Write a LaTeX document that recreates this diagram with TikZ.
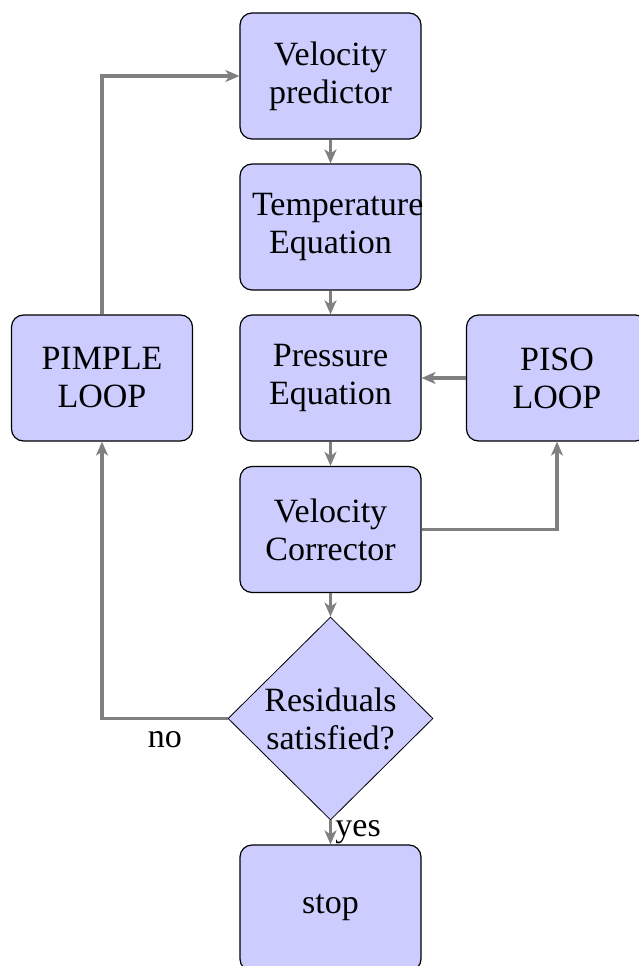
\documentclass[tikz,border=0pt]{standalone}
\usepackage{fontspec}
\setmainfont{Liberation Serif}
\usetikzlibrary{shapes.geometric,arrows.meta}
\begin{document}
\begin{tikzpicture}[x=1pt,y=1pt,
  font=\fontsize{34}{38}\selectfont,
  stepbox/.style={rectangle, draw=black, line width=1.2pt, fill=blue!20,
    rounded corners=12pt, text width=157pt, inner sep=12pt,
    minimum width=181pt, minimum height=126pt, align=center},
  decision/.style={diamond, draw=black, line width=0.8pt, fill=blue!20,
    text width=140pt, align=center, inner sep=0pt,
    minimum width=205pt, minimum height=203pt},
  link/.style={draw=gray, line width=3.2pt,
    -{Stealth[length=14pt,width=12pt,inset=4pt]}}]
  \useasboundingbox (0,0) rectangle (638,-966);

  % main column
  \node[stepbox] (pred)   at (330.5,-76)    {Velocity predictor};
  \node[stepbox] (temp)   at (330.5,-227)   {Temperature Equation};
  \node[stepbox] (press)  at (330.5,-378)   {Pressure Equation};
  \node[stepbox] (corr)   at (330.5,-529.5) {Velocity Corrector};
  \node[decision] (dec)   at (330.5,-718.5) {Residuals satisfied?};
  \node[stepbox] (stop)   at (330.5,-908)   {stop};

  % outer and inner loops
  \node[stepbox] (pimple) at (102,-378)     {PIMPLE LOOP};
  \node[stepbox] (piso)   at (557,-378)     {PISO LOOP};

  % connectors
  \draw[link] (pred) -- (temp);
  \draw[link] (temp) -- (press);
  \draw[link] (press) -- (corr);
  \draw[link] (corr) -- (dec);
  \draw[link] (dec) -- node[right] {yes} (stop);
  \draw[link] (dec) -| node[below, pos=0.25, yshift=-8pt] {no} (pimple);
  \draw[link] (pimple) |- (pred);
  \draw[link] (piso) -- (press);
  \draw[link] (corr) -| (piso);
\end{tikzpicture}
\end{document}
